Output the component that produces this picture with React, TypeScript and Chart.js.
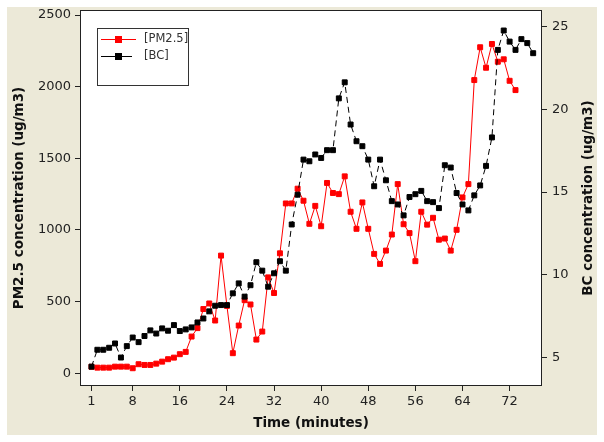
import React, { useEffect, useRef } from "react";
import { Chart, registerables } from "chart.js";

Chart.register(...registerables);

// ---- data ----
const minutesPM = [
  1, 2, 3, 4, 5, 6, 7, 8, 9, 10, 11, 12, 13, 14, 15, 16, 17, 18, 19, 20,
  21, 22, 23, 24, 25, 26, 27, 28, 29, 30, 31, 32, 33, 34, 35, 36, 37, 38, 39, 40,
  41, 42, 43, 44, 45, 46, 47, 48, 49, 50, 51, 52, 53, 54, 55, 56, 57, 58, 59, 60,
  61, 62, 63, 64, 65, 66, 67, 68, 69, 70, 71, 72, 73,
];
const minutesBC = [
  1, 2, 3, 4, 5, 6, 7, 8, 9, 10, 11, 12, 13, 14, 15, 16, 17, 18, 19, 20,
  21, 22, 23, 24, 25, 26, 27, 28, 29, 30, 31, 32, 33, 34, 35, 36, 37, 38, 39, 40,
  41, 42, 43, 44, 45, 46, 47, 48, 49, 50, 51, 52, 53, 54, 55, 56, 57, 58, 59, 60,
  61, 62, 63, 64, 65, 66, 67, 68, 69, 70, 71, 72, 73, 74, 75, 76,
];
const pmValues = [
  45, 39, 39, 39, 46, 46, 46, 35, 63, 58,
  58, 67, 81, 98, 109, 133, 149, 256, 315, 448,
  487, 368, 821, 470, 140, 333, 510, 480, 235, 291,
  669, 560, 837, 1185, 1185, 1288, 1204, 1043, 1168, 1026,
  1328, 1258, 1250, 1374, 1127, 1008, 1192, 1008, 833, 763,
  856, 968, 1320, 1040, 978, 782, 1127, 1037, 1085, 932,
  940, 856, 1001, 1227, 1320, 2046, 2275, 2132, 2298, 2174,
  2191, 2041, 1976,
];
const bcValues = [
  4.45, 5.47, 5.47, 5.59, 5.85, 5.0, 5.69, 6.21, 5.93, 6.3,
  6.64, 6.45, 6.76, 6.62, 6.96, 6.6, 6.7, 6.82, 7.12, 7.36,
  7.79, 8.13, 8.17, 8.17, 8.88, 9.48, 8.68, 9.37, 10.76, 10.25,
  9.28, 10.09, 10.82, 10.25, 13.04, 14.84, 16.96, 16.86, 17.27, 17.06,
  17.53, 17.53, 20.66, 21.63, 19.08, 18.07, 17.77, 16.96, 15.35, 16.96,
  15.71, 14.45, 14.25, 13.59, 14.7, 14.87, 15.07, 14.45, 14.39, 14.03,
  16.62, 16.48, 14.94, 14.25, 13.89, 14.8, 15.4, 16.58, 18.3, 23.59,
  24.76, 24.09, 23.59, 24.24, 24.0, 23.39,
];
const xTickValues = [1, 8, 16, 24, 32, 40, 48, 56, 64, 72];
const pmTickValues = [0, 500, 1000, 1500, 2000, 2500];
const bcTickValues = [5, 10, 15, 20, 25];
const legendLabels = ["[PM2.5]", "[BC]"];
const xTitle = "Time (minutes)";
const yLeftTitle = "PM2.5 concentration (ug/m3)";
const yRightTitle = "BC concentration (ug/m3)";

const PM_COLOR = "#ff0000";
const BC_COLOR = "#000000";
const BEIGE = "#ECE9D8";
const FONT = "'DejaVu Sans', Verdana, sans-serif";

const fixAxis = (size: number, horizontal: boolean) => (scale: any) => {
  if (horizontal) scale.height = size;
  else scale.width = size;
  scale.paddingTop = 0;
  scale.paddingBottom = 0;
  scale.paddingLeft = 0;
  scale.paddingRight = 0;
};

const plainLabel = (v: any) => String(v);

const decorPlugin = {
  id: "decor",
  beforeDraw(chart: any) {
    const { ctx, chartArea: a } = chart;
    ctx.save();
    ctx.fillStyle = "#ffffff";
    ctx.fillRect(0, 0, chart.width, chart.height);
    ctx.fillStyle = BEIGE;
    ctx.fillRect(7, 7, 590, 428);
    ctx.fillStyle = "#ffffff";
    ctx.fillRect(a.left, a.top, a.right - a.left, a.bottom - a.top);
    ctx.restore();
  },
  afterDraw(chart: any) {
    const { ctx, chartArea: a } = chart;
    ctx.save();
    // frame
    ctx.strokeStyle = "#222";
    ctx.lineWidth = 1;
    ctx.strokeRect(a.left + 0.5, a.top + 0.5, a.right - a.left - 1, a.bottom - a.top - 1);

    // titles
    ctx.fillStyle = "#111";
    ctx.font = `bold 13.5px ${FONT}`;
    ctx.textAlign = "center";
    ctx.textBaseline = "middle";
    const cy = (a.top + a.bottom) / 2;
    ctx.fillText(xTitle, (a.left + a.right) / 2, 423);
    ctx.save();
    ctx.translate(19, cy);
    ctx.rotate(-Math.PI / 2);
    ctx.fillText(yLeftTitle, 0, 0);
    ctx.restore();
    ctx.save();
    ctx.translate(588, cy);
    ctx.rotate(-Math.PI / 2);
    ctx.fillText(yRightTitle, 0, 0);
    ctx.restore();

    // legend
    const bx = 97, by = 28, bw = 91, bh = 57;
    ctx.fillStyle = "#fff";
    ctx.fillRect(bx, by, bw, bh);
    ctx.strokeStyle = "#333";
    ctx.strokeRect(bx + 0.5, by + 0.5, bw, bh);
    const rows = [
      { label: legendLabels[0], color: PM_COLOR, y: 39.5, x2: 136 },
      { label: legendLabels[1], color: BC_COLOR, y: 56.5, x2: 132 },
    ];
    ctx.font = `11.5px ${FONT}`;
    ctx.textAlign = "left";
    for (const r of rows) {
      ctx.strokeStyle = r.color;
      ctx.beginPath();
      ctx.moveTo(101, r.y);
      ctx.lineTo(r.x2, r.y);
      ctx.stroke();
      ctx.fillStyle = r.color;
      ctx.fillRect(115, r.y - 3.5, 7, 7);
      ctx.fillStyle = "#333";
      ctx.fillText(r.label, 144, r.y);
    }
    ctx.restore();
  },
};

export default function App() {
  const ref = useRef<HTMLCanvasElement | null>(null);

  useEffect(() => {
    if (!ref.current) return;
    Chart.defaults.font.family = FONT;
    const pmData = minutesPM.map((t, i) => ({ x: t, y: pmValues[i] }));
    const bcData = minutesBC.map((t, i) => ({ x: t, y: bcValues[i] }));
    const chart = new Chart(ref.current, {
      type: "line",
      data: {
        datasets: [
          {
            label: legendLabels[0],
            data: pmData,
            yAxisID: "yPM",
            borderColor: PM_COLOR,
            backgroundColor: PM_COLOR,
            borderWidth: 1,
            pointStyle: "rect",
            pointRadius: 3.5,
            pointBorderWidth: 1,
            pointBackgroundColor: PM_COLOR,
            pointBorderColor: PM_COLOR,
            tension: 0,
            order: 1,
          },
          {
            label: legendLabels[1],
            data: bcData,
            yAxisID: "yBC",
            borderColor: BC_COLOR,
            backgroundColor: BC_COLOR,
            borderWidth: 1,
            borderDash: [6, 4],
            pointStyle: "rect",
            pointRadius: 3.5,
            pointBorderWidth: 1,
            pointBackgroundColor: BC_COLOR,
            pointBorderColor: BC_COLOR,
            tension: 0,
            order: 0,
          },
        ],
      },
      options: {
        animation: false,
        responsive: false,
        devicePixelRatio: 1,
        layout: { padding: { top: 10, left: 0, right: 0, bottom: 0 } },
        plugins: { legend: { display: false }, tooltip: { enabled: false } },
        scales: {
          x: {
            type: "linear",
            position: "bottom",
            min: -0.95,
            max: 77.5,
            afterBuildTicks: (s: any) => {
              s.ticks = xTickValues.map((v) => ({ value: v }));
            },
            afterFit: fixAxis(56, true),
            grid: { drawOnChartArea: false, drawTicks: true, tickLength: 5, color: "#222" },
            border: { display: false },
            ticks: { color: "#222", font: { size: 13 }, padding: 3, maxRotation: 0, autoSkip: false, callback: plainLabel },
          },
          yPM: {
            type: "linear",
            position: "left",
            min: -89,
            max: 2535,
            afterBuildTicks: (s: any) => {
              s.ticks = pmTickValues.map((v) => ({ value: v }));
            },
            afterFit: fixAxis(80, false),
            grid: { drawOnChartArea: false, drawTicks: true, tickLength: 5, color: "#222" },
            border: { display: false },
            ticks: { color: "#222", font: { size: 13 }, padding: 4, callback: plainLabel },
          },
          yBC: {
            type: "linear",
            position: "right",
            min: 3.28,
            max: 26.0,
            afterBuildTicks: (s: any) => {
              s.ticks = bcTickValues.map((v) => ({ value: v }));
            },
            afterFit: fixAxis(62, false),
            grid: { drawOnChartArea: false, drawTicks: true, tickLength: 5, color: "#222" },
            border: { display: false },
            ticks: { color: "#222", font: { size: 13 }, padding: 5, callback: plainLabel },
          },
        },
      },
      plugins: [decorPlugin],
    });
    return () => chart.destroy();
  }, []);

  return (
    <div style={{ position: "absolute", left: 0, top: 0, width: 604, height: 442 }}>
      <canvas ref={ref} width={604} height={442} style={{ display: "block", width: 604, height: 442 }} />
    </div>
  );
}
